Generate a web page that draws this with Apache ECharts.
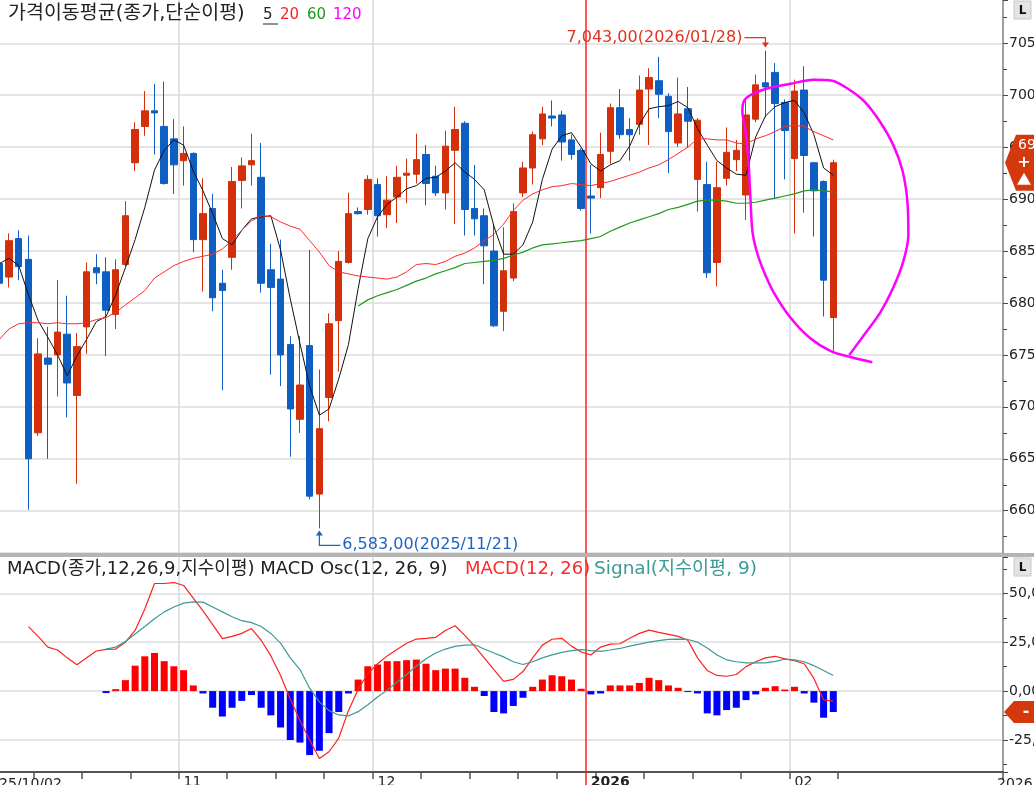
<!DOCTYPE html>
<html><head><meta charset="utf-8">
<script src="https://cdn.jsdelivr.net/npm/echarts@6/dist/echarts.min.js"></script>
<style>html,body{margin:0;padding:0;background:#fff;}#c{width:1034px;height:785px;}</style>
</head><body><div id="c"></div>
<script>
// ---------- DATA ----------
const dates = [
'2025/10/07','2025/10/08','2025/10/09','2025/10/10','2025/10/13','2025/10/14','2025/10/15','2025/10/16','2025/10/17','2025/10/20','2025/10/21','2025/10/22','2025/10/23','2025/10/24','2025/10/27','2025/10/28','2025/10/29','2025/10/30','2025/10/31',
'2025/11/03','2025/11/04','2025/11/05','2025/11/06','2025/11/07','2025/11/10','2025/11/11','2025/11/12','2025/11/13','2025/11/14','2025/11/17','2025/11/18','2025/11/19','2025/11/20','2025/11/21','2025/11/24','2025/11/25','2025/11/26','2025/11/27','2025/11/28',
'2025/12/01','2025/12/02','2025/12/03','2025/12/04','2025/12/05','2025/12/08','2025/12/09','2025/12/10','2025/12/11','2025/12/12','2025/12/15','2025/12/16','2025/12/17','2025/12/18','2025/12/19','2025/12/22','2025/12/23','2025/12/24','2025/12/26','2025/12/29','2025/12/30','2025/12/31',
'2026/01/02','2026/01/05','2026/01/06','2026/01/07','2026/01/08','2026/01/09','2026/01/12','2026/01/13','2026/01/14','2026/01/15','2026/01/16','2026/01/19','2026/01/20','2026/01/21','2026/01/22','2026/01/23','2026/01/26','2026/01/27','2026/01/28','2026/01/29','2026/01/30',
'2026/02/02','2026/02/03','2026/02/04','2026/02/05','2026/02/06'];
const futureDates = ['2026/02/09','2026/02/10','2026/02/11','2026/02/12','2026/02/13','2026/02/16','2026/02/17','2026/02/18','2026/02/19','2026/02/20','2026/02/23','2026/02/24','2026/02/25','2026/02/26','2026/02/27','2026/03/02','2026/03/03'];

const opens = [6838,6825,6862,6842,6675,6747,6750,6770,6711,6777,6834,6830,6789,6837,6935,6970,6985,6970,6958,
6937,6944,6861,6891,6819,6844,6918,6933,6921,6832,6823,6760,6688,6759,6616,6709,6783,6839,6888,6890,
6914,6885,6902,6923,6924,6943,6922,6906,6947,6973,6891,6884,6850,6792,6824,6906,6930,6958,6980,6981,6957,6947,
6903,6911,6946,6988,6967,6972,7006,7014,6999,6954,6987,6919,6914,6839,6920,6938,6904,6977,7012,7022,6993,
6939,7005,6935,6917,6786];
const closes = [6819,6860,6835,6650,6751,6741,6772,6723,6758,6830,6829,6793,6832,6884,6967,6985,6983,6915,6933,
6944,6861,6886,6805,6812,6917,6932,6937,6819,6815,6750,6698,6721,6614,6679,6780,6840,6886,6886,6919,
6884,6899,6921,6925,6938,6915,6906,6951,6967,6890,6881,6855,6778,6831,6888,6930,6962,6982,6978,6955,6943,6891,
6901,6943,6988,6962,6962,7005,7017,7001,6965,6982,6975,6976,6829,6911,6945,6947,6981,7010,7008,6992,6966,
7004,6942,6908,6822,6935];
const lows = [6807,6815,6822,6601,6672,6650,6710,6690,6626,6751,6818,6749,6775,6835,6927,6961,6943,6914,6905,
6913,6849,6811,6792,6716,6832,6891,6913,6810,6731,6720,6652,6675,6611,6583,6686,6734,6838,6885,6885,
6864,6872,6877,6896,6915,6894,6903,6890,6876,6865,6865,6818,6777,6773,6821,6902,6914,6952,6970,6937,6938,6889,
6867,6901,6934,6958,6937,6962,6952,6978,6925,6950,6950,6888,6824,6816,6913,6927,6880,6974,6979,6900,6919,
6867,6887,6864,6787,6754];
const highs = [6860,6867,6870,6865,6766,6777,6822,6807,6771,6839,6847,6844,6842,6898,6974,7004,7011,7013,6977,
6970,6945,6920,6905,6832,6931,6940,6963,6954,6857,6861,6768,6768,6851,6736,6790,6850,6906,6892,6923,
6920,6922,6932,6939,6963,6952,6932,6966,6989,6975,6933,6891,6875,6873,6896,6936,6965,6989,6995,6985,6962,6949,
6933,6964,6992,7006,6978,7019,7026,7037,7002,7017,7008,6978,6936,6936,6969,6957,6996,7020,7043,7031,6996,
7015,7028,6936,6918,6938];

const ma5 = [6838,6843,6836,6808,6783,6767,6750,6730,6749,6765,6782,6787,6808,6834,6861,6892,6928,6947,6957,
6952,6927,6908,6886,6862,6856,6870,6881,6883,6884,6851,6804,6761,6720,6692,6698,6727,6760,6814,6862,
6883,6895,6902,6910,6913,6920,6921,6927,6935,6926,6919,6909,6874,6847,6847,6856,6878,6919,6948,6961,6964,6950,
6934,6927,6933,6937,6951,6972,6987,6989,6990,6994,6988,6968,6952,6937,6930,6924,6923,6960,6980,6989,6993,
6995,6983,6962,6930,6923];
const ma20 = [6765,6775,6780,6781,6781,6780,6781,6780,6780,6781,6784,6786,6791,6798,6805,6812,6824,6830,6836,
6840,6843,6845,6847,6852,6860,6870,6879,6884,6883,6878,6874,6871,6860,6849,6836,6830,6828,6826,6825,
6824,6823,6825,6830,6837,6838,6837,6840,6845,6848,6853,6860,6866,6876,6889,6899,6905,6909,6912,6913,6915,6914,
6913,6915,6917,6920,6923,6926,6930,6933,6938,6944,6950,6958,6958,6957,6957,6954,6953,6958,6961,6965,6970,
6971,6970,6965,6961,6957];
const ma60 = [null,null,null,null,null,null,null,null,null,null,null,null,null,null,null,null,null,null,null,
null,null,null,null,null,null,null,null,null,null,null,null,null,null,null,null,null,null,6797,6803,
6807,6810,6813,6817,6821,6824,6828,6831,6834,6838,6839,6840,6841,6843,6846,6849,6853,6856,6857,6858,6859,6860,
6862,6864,6869,6873,6877,6880,6883,6886,6890,6892,6895,6898,6899,6899,6898,6896,6896,6897,6899,6901,6903,
6905,6908,6909,6908,6907];

const macd = [null,null,null,33,28,22.5,21,17,13.5,17,20.5,21.3,21.5,25,31,42,55,55,55.5,
54,47.5,41,34,26.8,28,29.5,32,26,18,8,-4,-15,-25,-34.5,-31,-24,-10,1,9,
14,18,21.3,24.5,26.6,27,27.5,31,33.4,28.5,23,17,11,5,6,10,17,23.5,26.5,27,23,20,
18.5,22.5,24,24.2,27,29.5,31.2,30,29,28,26,17,10.5,8,7.6,8.5,12.5,15,17,17.8,16.5,
15.5,14,6.5,-4.5,-5.1];
const signal = [null,null,null,null,null,null,null,null,null,null,null,21.5,22.5,25.4,29.2,33,37,40.5,43,
45,45.6,45.5,43,40.5,38,36,35,33,29.5,24.5,17,11,1.5,-5.5,-10,-12.2,-12.7,-10.5,-7,
-3,0.5,4.5,8.5,12.8,16.5,19.5,21.5,22.9,23.5,23.7,21.5,19.5,17.5,15,13.6,15,17,18.5,19.8,20.7,21.2,
20.7,20.3,21,21.8,23,24,25,25.8,26.4,26.6,26.4,25,22,18.5,16,15,14.4,14.4,14.4,15.2,16.3,
16,15,13,10.5,8];
const osc = [null,null,null,null,null,null,null,null,null,null,null,-1,1,5.6,13,17.8,19.5,15.3,12.7,
10.7,2.9,-1.2,-8.5,-13,-8.5,-5,-2,-8.5,-12.4,-18.6,-25,-26.3,-32.7,-30.5,-21.5,-10.7,-1.2,5.9,12.7,
13.6,15.3,15.3,15.8,16.1,14,10.7,11.5,11.5,6.8,2.2,-2.5,-10.7,-11.4,-7.6,-3.4,2.2,5.9,8.1,7.6,5.9,1.2,
-1.7,-1.2,2.9,2.9,2.9,4.2,6.8,5.6,2.9,1.7,-0.5,-1.2,-11.4,-12.4,-9.7,-8.5,-4.6,-1.7,1.7,2.5,0.8,
2.2,-1.2,-5.9,-13.6,-10.7];

const monthStarts = ['2025/11/03','2025/12/01','2026/01/02','2026/02/02'];
const monthLabels = {'2025/11/03':'11','2025/12/01':'12','2026/01/02':'2026','2026/02/02':'02'};
const weekTicks = ['2025/10/13','2025/10/20','2025/10/27','2025/11/03','2025/11/10','2025/11/17','2025/11/24','2025/12/01','2025/12/08','2025/12/15','2025/12/22','2025/12/29','2026/01/05','2026/01/12','2026/01/19','2026/01/26','2026/02/02','2026/02/09'];
const yearStart = '2026/01/02';

// hand-drawn magenta loop: [category position, price]
const loopPts = [[87.65,6750],[88.37,6759],[89.4,6772],[90.85,6791],[92.19,6815],[93.22,6840],[93.74,6866],[93.63,6899],[93.12,6928],[92.19,6952],[90.85,6974],[89.2,6994],[87.55,7006],[85.9,7014],[83.94,7015],[81.57,7011],[79.0,7006],[77.65,7001],[76.82,6995],[76.62,6984],[76.93,6967],[77.24,6938],[77.44,6904],[77.65,6870],[78.06,6851],[78.68,6834],[79.81,6811],[81.57,6786],[83.63,6766],[85.69,6754],[87.75,6748],[90.02,6743]];

const highNote = {idx: 79, price: 7043, text: '7,043,00(2026/01/28)'};
const lowNote = {idx: 33, price: 6583, text: '6,583,00(2025/11/21)'};

// ---------- CHART ----------
const FONT = "'DejaVu Sans','Noto Sans CJK KR',sans-serif";
const UP = '#d22f0a', DOWN = '#0f5ec2';
const cats = dates.concat(futureDates);
const monthSet = new Set(monthStarts), weekSet = new Set(weekTicks);
const vGridColors = ['#d9d9d9','#d9d9d9','#ff2020','#d9d9d9'];

const chart = echarts.init(document.getElementById('c'), null, {renderer:'canvas', width:1034, height:785});

const splitX = {show:true, interval:(i,v)=>monthSet.has(v), lineStyle:{color:vGridColors, width:1.5}};

chart.setOption({
  animation:false,
  backgroundColor:'#ffffff',
  grid:[
    {left:-5.5, right:31, top:0, height:553, containLabel:false, outerBoundsMode:'none'},
    {left:-5.5, right:31, top:557, height:215, containLabel:false, outerBoundsMode:'none'}
  ],
  xAxis:[
    {type:'category', gridIndex:0, data:cats, boundaryGap:true,
     axisLine:{show:false, onZero:false}, axisTick:{show:false}, axisLabel:{show:false}, splitLine:splitX},
    {type:'category', gridIndex:1, data:cats, boundaryGap:true,
     axisLine:{show:true, onZero:false, lineStyle:{color:'#555', width:2}},
     axisTick:{show:true, interval:(i,v)=>weekSet.has(v), length:7, lineStyle:{color:'#555', width:1.5}},
     axisLabel:{show:true, interval:(i,v)=>v in monthLabels,
       formatter:(v)=> v===yearStart ? '{b|2026}' : (monthLabels[v]||''),
       align:'left', margin:3, fontSize:14, fontFamily:FONT, color:'#222',
       rich:{b:{fontWeight:'bold', fontSize:14, fontFamily:FONT, color:'#222'}}},
     splitLine:splitX},
    {type:'value', gridIndex:0, min:-0.5, max:103.5, show:false,
     axisLine:{show:false, onZero:false}, axisTick:{show:false}, axisLabel:{show:false}, splitLine:{show:false}}
  ],
  yAxis:[
    {type:'value', gridIndex:0, position:'right', min:6559.3, max:7091.7, splitNumber:10, minInterval:50, maxInterval:50,
     axisLine:{show:true, onZero:false, lineStyle:{color:'#8a8a8a', width:1.5}},
     axisTick:{show:true, length:5, lineStyle:{color:'#444'}},
     minorTick:{show:true, splitNumber:2, length:4, lineStyle:{color:'#444'}},
     axisLabel:{margin:6, fontSize:14, fontFamily:FONT, color:'#222', showMinLabel:false, showMaxLabel:false,
       formatter:(v)=>String(Math.round(v))},
     splitLine:{show:true, showMaxLine:false, lineStyle:{color:'#dcdcdc', width:1.5}}},
    {type:'value', gridIndex:1, position:'right', min:-41.36, max:68.56, splitNumber:4, minInterval:25, maxInterval:25,
     axisLine:{show:true, onZero:false, lineStyle:{color:'#8a8a8a', width:1.5}},
     axisTick:{show:true, length:5, lineStyle:{color:'#444'}},
     minorTick:{show:true, splitNumber:2, length:4, lineStyle:{color:'#444'}},
     axisLabel:{margin:6, fontSize:14, fontFamily:FONT, color:'#222', showMinLabel:false, showMaxLabel:false,
       formatter:(v)=>v.toFixed(2).replace('.', ',')},
     splitLine:{show:true, showMaxLine:false, lineStyle:{color:'#dcdcdc', width:1.5}}}
  ],
  series:[
    {type:'candlestick', xAxisIndex:0, yAxisIndex:0, barWidth:7,
     data: dates.map((d,i)=>[opens[i], closes[i], lows[i], highs[i]]),
     itemStyle:{color:UP, color0:DOWN, borderColor:UP, borderColor0:DOWN, borderWidth:1}},
    {type:'line', xAxisIndex:0, yAxisIndex:0, data:ma5, symbol:'none', lineStyle:{color:'#111', width:1}, z:3},
    {type:'line', xAxisIndex:0, yAxisIndex:0, data:ma20, symbol:'none', lineStyle:{color:'#ff2a2a', width:1}, z:3},
    {type:'line', xAxisIndex:0, yAxisIndex:0, data:ma60, symbol:'none', lineStyle:{color:'#1f9a1f', width:1.2}, z:3},
    {type:'line', xAxisIndex:2, yAxisIndex:0, data:loopPts, symbol:'none', smooth:0.3,
     lineStyle:{color:'#ff00ff', width:2.5}, z:5},
    {type:'bar', xAxisIndex:1, yAxisIndex:1, barWidth:7,
     data: osc.map(v=> v==null ? null : {value:v, itemStyle:{color: v>=0 ? '#ff0000' : '#0000ff'}})},
    {type:'line', xAxisIndex:1, yAxisIndex:1, data:macd, symbol:'none', lineStyle:{color:'#ff2020', width:1.2}, z:4},
    {type:'line', xAxisIndex:1, yAxisIndex:1, data:signal, symbol:'none', lineStyle:{color:'#3c9a96', width:1.2}, z:4}
  ]
});

// ---------- ANNOTATIONS (positioned through the chart's own scales) ----------
const HC = '#e2321e', LC = '#1f62c4';
const ph = chart.convertToPixel({xAxisIndex:0, yAxisIndex:0}, [highNote.idx, highNote.price]);
const pl = chart.convertToPixel({xAxisIndex:0, yAxisIndex:0}, [lowNote.idx, lowNote.price]);
const pc = chart.convertToPixel({xAxisIndex:0, yAxisIndex:0}, [dates.length-1, closes[closes.length-1]]);
const po = chart.convertToPixel({xAxisIndex:1, yAxisIndex:1}, [dates.length-1, osc[osc.length-1]]);
const yi = dates.indexOf(yearStart);
const pyA = chart.convertToPixel({xAxisIndex:1, yAxisIndex:1}, [yi, 0]);
const pyB = chart.convertToPixel({xAxisIndex:1, yAxisIndex:1}, [yi+1, 0]);
const yearX = pyA[0] - (pyB[0]-pyA[0])/2;
const hx = ph[0], hy = ph[1], lx = pl[0], ly = pl[1], cy = pc[1], oy = po[1];

function txt(x, y, text, size, fill, extra) {
  return Object.assign({type:'text', x:x, y:y, z:100,
    style:Object.assign({text:text, fontSize:size, fontFamily:FONT, fill:fill, align:'left', verticalAlign:'middle'}, extra||{})});
}

const g = [
  {type:'rect', z:90, shape:{x:0, y:553, width:1034, height:4}, style:{fill:'#b4b4b4'}},
  {type:'line', z:90, shape:{x1:yearX, y1:772, x2:yearX, y2:785}, style:{stroke:'#ff2020', lineWidth:1.5}},
  txt(8, 14, '가격이동평균(종가,단순이평)', 19.5, '#222'),
  txt(263, 15, '5', 15, '#222'),
  {type:'line', z:100, shape:{x1:263, y1:24, x2:278, y2:24}, style:{stroke:'#222', lineWidth:1}},
  txt(280, 15, '20', 15, '#ff2020'),
  txt(307, 15, '60', 15, '#1f9a1f'),
  txt(333, 15, '120', 15, '#ff00ff'),
  txt(7, 569, 'MACD(종가,12,26,9,지수이평) MACD Osc(12, 26, 9)', 18, '#222'),
  txt(465, 569, 'MACD(12, 26)', 18, '#ff2a2a'),
  txt(594, 569, 'Signal(지수이평, 9)', 18.5, '#3c9a96'),
  {type:'rect', z:100, shape:{x:1014, y:1, width:17, height:18}, style:{fill:'#e4e4e4', stroke:'#c8c8c8'}},
  txt(1022.5, 10.5, 'L', 12, '#111', {align:'center', fontWeight:'bold'}),
  {type:'rect', z:100, shape:{x:1014, y:558, width:17, height:18}, style:{fill:'#e4e4e4', stroke:'#c8c8c8'}},
  txt(1022.5, 567.5, 'L', 12, '#111', {align:'center', fontWeight:'bold'}),
  txt(-1, 784, '25/10/02', 14, '#222'),
  txt(997, 784, '2026', 14, '#222'),
  txt(hx-23, hy-13, highNote.text, 16, HC, {align:'right'}),
  {type:'polyline', z:100, shape:{points:[[hx-21, hy-13],[hx, hy-13],[hx, hy-6]]}, style:{stroke:HC, lineWidth:1.2, fill:null}},
  {type:'polygon', z:100, shape:{points:[[hx-3.5, hy-8],[hx+3.5, hy-8],[hx, hy-3]]}, style:{fill:HC}},
  {type:'polygon', z:100, shape:{points:[[lx-3.5, ly+7],[lx+3.5, ly+7],[lx, ly+2]]}, style:{fill:LC}},
  {type:'polyline', z:100, shape:{points:[[lx, ly+6],[lx, ly+17],[lx+21, ly+17]]}, style:{stroke:LC, lineWidth:1.2, fill:null}},
  txt(lx+23, ly+16, lowNote.text, 16, LC),
  {type:'polygon', z:100, shape:{points:[[1005, cy],[1016, cy-28],[1040, cy-28],[1040, cy+28],[1016, cy+28]]}, style:{fill:'#d4380d'}},
  txt(1018, cy-17, closes[closes.length-1].toFixed(2), 14, '#fff'),
  txt(1024, cy, '+', 16, '#fff', {align:'center', fontWeight:'bold'}),
  {type:'polygon', z:101, shape:{points:[[1017, cy+22],[1031, cy+22],[1024, cy+10]]}, style:{fill:'#fff'}},
  {type:'polygon', z:100, shape:{points:[[1004, oy],[1014, oy-11],[1040, oy-11],[1040, oy+11],[1014, oy+11]]}, style:{fill:'#d4380d'}},
  txt(1026, oy, '-', 16, '#fff', {align:'center', fontWeight:'bold'})
];
chart.setOption({graphic: g});
</script>
</body></html>
